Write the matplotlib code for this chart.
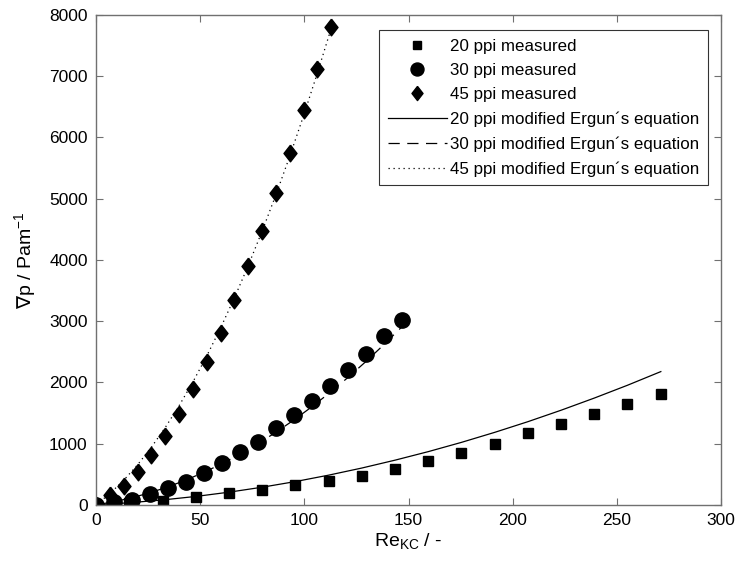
import numpy as np
import matplotlib
matplotlib.use("Agg")
import matplotlib.pyplot as plt

plt.rcParams['font.family'] = ['Liberation Sans', 'DejaVu Sans']
plt.rcParams['mathtext.fontset'] = 'custom'
plt.rcParams['mathtext.rm'] = 'Liberation Sans'
plt.rcParams['mathtext.it'] = 'Liberation Sans'
plt.rcParams['mathtext.sf'] = 'DejaVu Sans'

# 20 ppi
re20 = [0, 15.9, 31.9, 47.8, 63.8, 79.7, 95.6, 111.6, 127.5, 143.5, 159.4, 175.3, 191.3, 207.2, 223.2, 239.1, 255.0, 271.0]
dp20 = [0, 28, 65, 125, 190, 245, 320, 395, 477, 590, 717, 840, 1000, 1168, 1325, 1487, 1650, 1813]
erg20 = [0, 34, 80, 137, 207, 288, 380, 485, 601, 730, 869, 1020, 1184, 1358, 1546, 1744, 1953, 2176]

# 30 ppi
re30 = [0, 8.6, 17.3, 25.9, 34.5, 43.2, 51.8, 60.4, 69.1, 77.7, 86.3, 95.0, 103.6, 112.2, 120.9, 129.5, 138.1, 146.8]
dp30 = [0, 45, 85, 175, 270, 380, 525, 680, 860, 1030, 1250, 1460, 1690, 1940, 2210, 2470, 2760, 3020]
erg30 = [0, 51, 117, 198, 294, 406, 532, 672, 829, 1000, 1185, 1388, 1603, 1833, 2081, 2341, 2616, 2909]

# 45 ppi
re45 = [0, 6.6, 13.3, 19.9, 26.5, 33.2, 39.8, 46.5, 53.1, 59.8, 66.4, 73.0, 79.7, 86.3, 93.0, 99.6, 106.2, 112.9]
dp45 = [0, 160, 300, 530, 810, 1120, 1490, 1890, 2340, 2810, 3340, 3900, 4480, 5100, 5750, 6440, 7110, 7800]
erg45 = [0, 183, 403, 654, 939, 1263, 1616, 2009, 2430, 2892, 3382, 3905, 4472, 5063, 5698, 6358, 7052, 7790]

fig = plt.figure(figsize=(7.39, 5.75), dpi=100)
ax = fig.add_axes([0.130, 0.122, 0.846, 0.852])

diamond = [(0, 1), (0.78, 0), (0, -1), (-0.78, 0), (0, 1)]

ax.plot(re20, dp20, 's', color='black', ms=7, ls='none', label='20 ppi measured')
ax.plot(re30, dp30, 'o', color='black', ms=11, ls='none', label='30 ppi measured')
ax.plot(re45, dp45, marker=diamond, color='black', ms=12, ls='none', label='45 ppi measured')
ax.plot(re20, erg20, '-', color='black', lw=0.9, label='20 ppi modified Ergun\u00b4s equation')
ax.plot(re30, erg30, color='black', lw=0.9, dashes=(9, 6), label='30 ppi modified Ergun\u00b4s equation')
ax.plot(re45, erg45, color='black', lw=0.9, dashes=(1, 3), label='45 ppi modified Ergun\u00b4s equation')

ax.set_xlim(0, 300)
ax.set_ylim(0, 8000)
ax.set_xticks(np.arange(0, 301, 50))
ax.set_yticks(np.arange(0, 8001, 1000))
ax.tick_params(direction='in', top=True, right=True, labelsize=12.5, length=5,
               color='#707070', pad=6)
for s in ax.spines.values():
    s.set_color('#707070')
    s.set_linewidth(1.0)

ax.set_xlabel(r'Re$_{\mathrm{KC}}$ / -', fontsize=14, labelpad=2)
ax.set_ylabel(r'$\mathsf{\nabla}$p / Pam$^{\mathrm{-1}}$', fontsize=14, labelpad=8)

leg = ax.legend(loc='upper right', bbox_to_anchor=(0.979, 0.969), fontsize=12.2,
                frameon=True, fancybox=False, edgecolor='black', handlelength=3.5,
                handletextpad=0.2, labelspacing=0.55, borderpad=0.5, markerscale=0.85,
                borderaxespad=0)
leg.get_frame().set_linewidth(0.8)

fig.savefig('out.png', dpi=100)
